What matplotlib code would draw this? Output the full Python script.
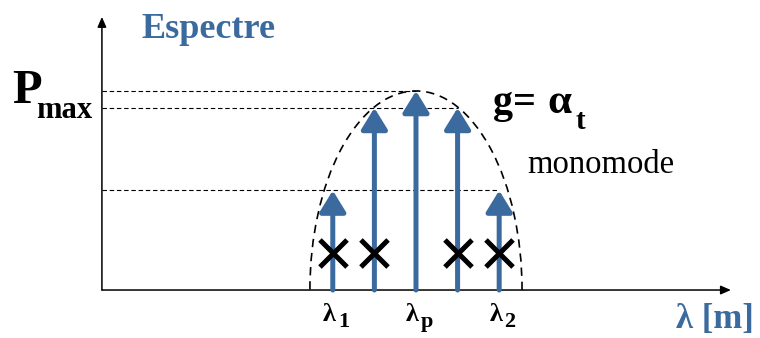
import matplotlib
matplotlib.use("Agg")
import matplotlib.pyplot as plt
from matplotlib.patches import Arc

plt.rcParams['font.family'] = ['Liberation Serif', 'DejaVu Serif']

BLUE = '#3b6a9f'

# modes (relative wavelength index) and their power (fraction of Pmax)
mode_pos = [-2, -1, 0, 1, 2]
mode_power = [0.50, 0.915, 1.0, 0.915, 0.50]
mode_subs = ['1', '', 'p', '', '2']
# modes suppressed in monomode operation
cross_pos = [-2, -1, 1, 2]
cross_level = 0.186
# gain envelope: half-width in mode units and peak height
env_halfwidth = 2.55
env_peak = 1.0

fig = plt.figure(figsize=(7.6, 3.38), dpi=100)
ax = fig.add_axes([0, 0, 1, 1])
ax.set_xlim(-10.0, 8.27)
ax.set_ylim(-0.241, 1.457)
ax.axis('off')

x_axis_left = -7.55
x_axis_right = 7.57
y_axis_top = 1.372

# axes with arrow heads
for end in [(x_axis_right, 0), (x_axis_left, y_axis_top)]:
    ax.annotate('', xy=end, xytext=(x_axis_left, 0),
                arrowprops=dict(arrowstyle='-|>,head_length=0.5,head_width=0.22', color='black',
                                lw=1.1, shrinkA=0, shrinkB=0, mutation_scale=12))

# dashed guide lines from the power axis to the modes
for lev in sorted(set(mode_power)):
    right = max(p for p, v in zip(mode_pos, mode_power) if v == lev)
    ax.plot([x_axis_left, right], [lev, lev], color='black', lw=0.8,
            ls=(0, (4, 2.5)), zorder=1)

# gain envelope
ax.add_patch(Arc((0, 0), 2 * env_halfwidth, 2 * env_peak, theta1=0, theta2=180,
                 color='black', lw=1.2, ls=(0, (5, 3.5)), zorder=2))

# modes
for x, p, sub in zip(mode_pos, mode_power, mode_subs):
    ax.annotate('', xy=(x, p), xytext=(x, 0),
                arrowprops=dict(arrowstyle='-|>,head_length=0.65,head_width=0.4', color=BLUE,
                                lw=3.6, shrinkA=0, shrinkB=0, mutation_scale=20), zorder=3)
    if sub:
        ax.annotate('λ', xy=(x, 0), xytext=(3, -31), textcoords='offset pixels',
                    ha='right', va='baseline', fontsize=19, fontweight='bold')
        ax.annotate(sub, xy=(x, 0), xytext=(5, -37), textcoords='offset pixels',
                    ha='left', va='baseline', fontsize=16, fontweight='bold')

ax.scatter(cross_pos, [cross_level] * len(cross_pos), marker='x', s=380,
           color='black', linewidths=3.6, zorder=4)

# texts (figure pixel layout)
W, H = 760, 338
def put(px, py, s, **kw):
    fig.text(px / W, 1 - py / H, s, va='baseline', **kw)

put(141, 38, 'Espectre', fontsize=26, fontweight='bold', color=BLUE)
put(12, 103, 'P', fontsize=35, fontweight='bold')
put(36, 118, 'max', fontsize=22, fontweight='bold')
put(493, 113, 'g=', fontsize=29, fontweight='bold')
put(547, 113, 'α', fontsize=31, fontweight='bold')
put(575, 129, 't', fontsize=21, fontweight='bold')
put(676, 328, 'λ [m]', fontsize=25, fontweight='bold', color=BLUE)
put(527, 173, 'monomode', fontsize=23.5)

fig.savefig('out.png', dpi=100)
